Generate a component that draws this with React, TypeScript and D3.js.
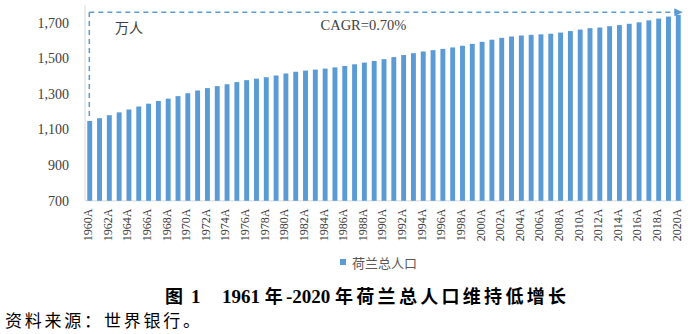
import React from "react";
import * as d3 from "d3";

const years: number[] = d3.range(1960, 2021);
const population: number[] = [
  1148.3, 1163.8, 1180.5, 1196.6, 1212.7, 1229.3, 1245.3, 1260.6, 1273.6, 1287.7,
  1304.0, 1319.4, 1332.9, 1343.9, 1354.5, 1366.6, 1377.4, 1385.6, 1393.9, 1403.4,
  1414.9, 1424.7, 1431.3, 1436.7, 1442.4, 1449.1, 1457.2, 1466.5, 1476.0, 1484.9,
  1495.2, 1506.8, 1518.4, 1529.0, 1538.3, 1545.9, 1553.0, 1561.1, 1570.7, 1581.2,
  1592.6, 1604.6, 1614.9, 1622.5, 1628.2, 1631.9, 1634.6, 1638.2, 1644.6, 1653.0,
  1661.5, 1669.3, 1673.0, 1680.4, 1686.6, 1694.0, 1702.2, 1713.2, 1723.1, 1734.5,
  1744.1,
];
const yTicks: number[] = [700, 900, 1100, 1300, 1500, 1700];
const seriesName = "荷兰总人口";
const unitLabel = "万人";
const cagrLabel = "CAGR=0.70%";
const titleParts: [string, boolean][] = [
  ["图", true],
  [" 1", false],
  ["　", true],
  ["1961 ", false],
  ["年", true],
  ["-2020 ", false],
  ["年荷兰总人口维持低增长", true],
];
const sourceText = "资料来源：世界银行。";

const W = 700;
const H = 334;
const BAR = "#5B9BD5";
const serif = "Liberation Serif, Times New Roman, DejaVu Serif, serif";
const cjk = "Noto Sans CJK SC, sans-serif";

export default function App() {
  const x = d3
    .scaleBand<number>()
    .domain(years)
    .range([84.8, 683.2])
    .paddingInner(0.5)
    .paddingOuter(0.25);
  const y = d3.scaleLinear().domain([700, 1800]).range([200.8, 4.9]);
  const fmt = d3.format(",");

  const firstX = (x(years[0]) as number) + x.bandwidth() / 2 - 0.4;
  const lastX = (x(years[years.length - 1]) as number) + x.bandwidth() / 2;
  const arrowY = 12.3;

  return (
    <svg
      width={W}
      height={H}
      style={{ position: "absolute", left: 0, top: 0, background: "#fff" }}
    >
      <rect width={W} height={H} fill="#fff" />
      <line x1={85} x2={85} y1={y(1800)} y2={y(700)} stroke="#d9d9d9" strokeWidth={1} />
      <line x1={85} x2={683.5} y1={y(700)} y2={y(700)} stroke="#d9d9d9" strokeWidth={1} />
      {yTicks.map((t) => (
        <text
          key={t}
          x={69}
          y={y(t)}
          dy="0.35em"
          textAnchor="end"
          style={{ fontFamily: serif, fontSize: 14 }}
          fill="#404040"
        >
          {fmt(t)}
        </text>
      ))}
      {years.map((yr, i) => (
        <rect
          key={yr}
          x={x(yr)}
          y={y(population[i])}
          width={x.bandwidth()}
          height={y(700) - y(population[i])}
          fill={BAR}
        />
      ))}
      {years
        .filter((yr) => (yr - 1960) % 2 === 0)
        .map((yr) => {
          const cx = (x(yr) as number) + x.bandwidth() / 2;
          return (
            <text
              key={yr}
              transform={`translate(${cx},208.5) rotate(-90)`}
              dy="0.2em"
              textAnchor="end"
              style={{ fontFamily: serif, fontSize: 12 }}
              fill="#404040"
            >
              {`${yr}A`}
            </text>
          );
        })}
      <line
        x1={firstX}
        x2={firstX}
        y1={116}
        y2={arrowY}
        stroke={BAR}
        strokeWidth={1.5}
        strokeDasharray="5,4"
      />
      <line
        x1={firstX}
        x2={675}
        y1={arrowY}
        y2={arrowY}
        stroke={BAR}
        strokeWidth={1.5}
        strokeDasharray="5,4"
      />
      <path
        d={`M${lastX - 4},${arrowY - 4} L${lastX + 4.5},${arrowY} L${lastX - 4},${arrowY + 4} Z`}
        fill={BAR}
      />
      <text x={115} y={33} style={{ fontFamily: cjk, fontSize: 14 }} fill="#404040">
        {unitLabel}
      </text>
      <text x={320.5} y={30} style={{ fontFamily: serif, fontSize: 14.5 }} fill="#404040">
        {cagrLabel}
      </text>
      <rect x={340} y={259} width={6} height={6} fill={BAR} />
      <text x={352} y={267.5} style={{ fontFamily: cjk, fontSize: 13 }} fill="#595959">
        {seriesName}
      </text>
      <text x={165} y={303} fontWeight="bold" fill="#000">
        {titleParts.map(([s, isCjk], i) => (
          <tspan
            key={i}
            style={{
              fontFamily: isCjk ? cjk : serif,
              fontSize: isCjk ? 18 : 19,
              letterSpacing: isCjk ? 3.3 : 0,
              whiteSpace: "pre",
            }}
          >
            {s}
          </tspan>
        ))}
      </text>
      <text
        x={5}
        y={327}
        style={{ fontFamily: cjk, fontSize: 17 }}
        fill="#000"
        textLength={195}
        lengthAdjust="spacing"
      >
        {sourceText}
      </text>
    </svg>
  );
}
